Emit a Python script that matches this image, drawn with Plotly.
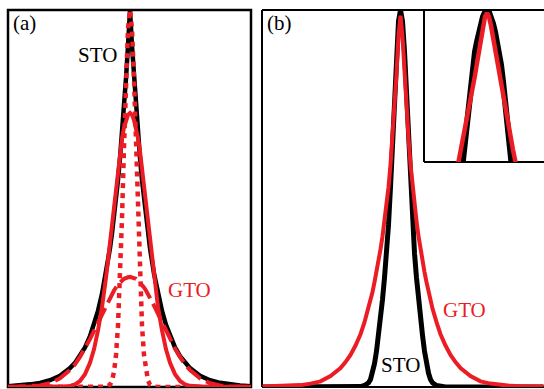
import plotly.graph_objects as go

# ---------------- data ----------------
# Panel (a): offsets from the peak centre, and curve heights (peak of STO = 1)
xa = [-122, -110, -100, -90, -80, -70, -60, -55, -50, -45, -40, -36, -32, -28, -24,
      -20, -18, -16, -14, -12, -10, -8, -6, -4, -2, 0, 2, 4, 6, 8, 10, 12, 14, 16,
      18, 20, 24, 28, 32, 36, 40, 45, 50, 55, 60, 70, 80, 90, 100, 110, 121]

sto_a = [0.002, 0.004, 0.007, 0.011, 0.018, 0.030, 0.050, 0.064, 0.082, 0.105,
         0.135, 0.165, 0.202, 0.247, 0.301, 0.368, 0.407, 0.449, 0.497, 0.549,
         0.607, 0.670, 0.741, 0.819, 0.905, 1.000, 0.905, 0.819, 0.741, 0.670,
         0.607, 0.549, 0.497, 0.449, 0.407, 0.368, 0.301, 0.247, 0.202, 0.165,
         0.135, 0.105, 0.082, 0.064, 0.050, 0.030, 0.018, 0.011, 0.007, 0.004, 0.002]

gto_narrow_a = [0, 0, 0, 0, 0, 0, 0, 0, 0, 0,
                0, 0, 0, 0, 0.001, 0.006, 0.017, 0.040, 0.085, 0.163,
                0.284, 0.447, 0.636, 0.817, 0.951, 1.000, 0.951, 0.817, 0.636, 0.447,
                0.284, 0.163, 0.085, 0.040, 0.017, 0.006, 0.001, 0, 0, 0,
                0, 0, 0, 0, 0, 0, 0, 0, 0, 0, 0]

gto_mid_a = [0, 0, 0, 0, 0, 0.001, 0.003, 0.007, 0.016, 0.034,
             0.064, 0.100, 0.150, 0.212, 0.290, 0.380, 0.428, 0.478, 0.530, 0.580,
             0.625, 0.660, 0.688, 0.708, 0.722, 0.727, 0.722, 0.708, 0.688, 0.660,
             0.625, 0.580, 0.530, 0.478, 0.428, 0.380, 0.290, 0.212, 0.150, 0.100,
             0.064, 0.034, 0.016, 0.007, 0.003, 0.001, 0, 0, 0, 0, 0]

gto_wide_a = [0.000, 0.001, 0.002, 0.004, 0.010, 0.023, 0.045, 0.060, 0.080, 0.102,
              0.127, 0.149, 0.171, 0.194, 0.216, 0.237, 0.247, 0.256, 0.264, 0.271,
              0.277, 0.282, 0.287, 0.290, 0.291, 0.292, 0.291, 0.290, 0.287, 0.282,
              0.277, 0.271, 0.264, 0.256, 0.247, 0.237, 0.216, 0.194, 0.171, 0.149,
              0.127, 0.102, 0.080, 0.060, 0.045, 0.023, 0.010, 0.004, 0.002, 0.001, 0.000]

# Panel (b)
xb = [-138, -120, -110, -100, -90, -80, -70, -60, -55, -50, -45, -40, -36, -32,
      -30, -28, -26, -24, -22, -20, -18, -16, -14, -12, -10, -8, -6, -4, -2, 0,
      2, 4, 6, 8, 10, 12, 14, 16, 18, 20, 22, 24, 26, 28, 30, 32, 36, 40, 45, 50,
      55, 60, 70, 80, 90, 100, 110, 120, 143]

sto_b = [0, 0, 0, 0, 0, 0, 0, 0, 0, 0, 0, 0.001, 0.004, 0.011,
         0.020, 0.037, 0.062, 0.095, 0.137, 0.180, 0.232, 0.290, 0.355, 0.430,
         0.530, 0.640, 0.770, 0.890, 0.970, 1.000,
         0.970, 0.890, 0.770, 0.640, 0.530, 0.430, 0.355, 0.290, 0.232, 0.180,
         0.137, 0.095, 0.062, 0.037, 0.020, 0.011, 0.004, 0.001, 0, 0,
         0, 0, 0, 0, 0, 0, 0, 0, 0]

gto_b = [0.001, 0.002, 0.003, 0.005, 0.009, 0.015, 0.029, 0.050, 0.066, 0.085,
         0.110, 0.140, 0.172, 0.208, 0.230, 0.252, 0.278, 0.305, 0.335, 0.365,
         0.400, 0.440, 0.480, 0.530, 0.590, 0.660, 0.740, 0.830, 0.930, 0.985,
         0.930, 0.830, 0.740, 0.660, 0.590, 0.530, 0.480, 0.440, 0.400, 0.365,
         0.335, 0.305, 0.278, 0.252, 0.230, 0.208, 0.172, 0.140, 0.110, 0.085,
         0.066, 0.050, 0.029, 0.015, 0.009, 0.005, 0.003, 0.002, 0.001]

# Inset of panel (b): close-up of the peaks
x_inset = [-30, -28, -26, -24, -22, -20, -18, -16, -14, -12, -10, -8, -6, -4, -2, 0,
           2, 4, 6, 8, 10, 12, 14, 16, 18, 20, 22, 24, 26, 28, 30]
sto_inset = [0.330, 0.390, 0.450, 0.510, 0.575, 0.640, 0.710, 0.765, 0.820, 0.862,
             0.895, 0.928, 0.955, 0.978, 0.9925, 1.000, 0.9925, 0.978, 0.955, 0.928,
             0.895, 0.862, 0.820, 0.765, 0.710, 0.640, 0.575, 0.510, 0.450, 0.390, 0.330]
gto_inset = [0.475, 0.508, 0.540, 0.575, 0.605, 0.645, 0.680, 0.712, 0.748, 0.785,
             0.825, 0.868, 0.910, 0.948, 0.978, 0.990, 0.978, 0.948, 0.910, 0.868,
             0.825, 0.785, 0.748, 0.712, 0.680, 0.645, 0.605, 0.575, 0.540, 0.508, 0.475]

labels = {"a": "(a)", "b": "(b)", "sto": "STO", "gto": "GTO"}

# ---------------- styling / layout ----------------
W, H = 544, 389
RED = "#ec1c24"
FONT = "Liberation Serif, Times New Roman, serif"


def px(p):
    return p / W


def py(p):
    return 1 - p / H


fig = go.Figure()

# panel (a)
fig.add_trace(go.Scatter(x=xa, y=sto_a, mode="lines", line=dict(color="black", width=4.5),
                         xaxis="x", yaxis="y"))
fig.add_trace(go.Scatter(x=xa, y=gto_wide_a, mode="lines",
                         line=dict(color=RED, width=4, dash="18px,6px"), xaxis="x", yaxis="y"))
fig.add_trace(go.Scatter(x=xa, y=gto_mid_a, mode="lines", line=dict(color=RED, width=4),
                         xaxis="x", yaxis="y"))
fig.add_trace(go.Scatter(x=xa, y=gto_narrow_a, mode="lines",
                         line=dict(color=RED, width=4.5, dash="5px,5px"), xaxis="x", yaxis="y"))

# panel (b)
fig.add_trace(go.Scatter(x=xb, y=sto_b, mode="lines", line=dict(color="black", width=5),
                         xaxis="x2", yaxis="y2"))
fig.add_trace(go.Scatter(x=xb, y=gto_b, mode="lines", line=dict(color=RED, width=4),
                         xaxis="x2", yaxis="y2"))

# inset
fig.add_trace(go.Scatter(x=x_inset, y=sto_inset, mode="lines", line=dict(color="black", width=6),
                         xaxis="x3", yaxis="y3"))
fig.add_trace(go.Scatter(x=x_inset, y=gto_inset, mode="lines", line=dict(color=RED, width=4.5),
                         xaxis="x3", yaxis="y3"))

ax_common = dict(showticklabels=False, ticks="", showgrid=False, zeroline=False,
                 showline=False, fixedrange=True)

top, bottom = 10, 387
fig.update_layout(
    width=W, height=H,
    margin=dict(l=0, r=0, t=0, b=0),
    paper_bgcolor="white",
    plot_bgcolor="rgba(0,0,0,0)",
    showlegend=False,
    hovermode=False,
    xaxis=dict(domain=[px(8), px(251)], range=[-122, 121], anchor="y", **ax_common),
    yaxis=dict(domain=[py(bottom), py(top)], range=[0, 1], anchor="x", **ax_common),
    xaxis2=dict(domain=[px(262), 1.0], range=[-138.5, 143.5], anchor="y2", **ax_common),
    yaxis2=dict(domain=[py(bottom), py(top)], range=[0, 1], anchor="x2", **ax_common),
    xaxis3=dict(domain=[px(424), 1.0], range=[-63, 57], anchor="y3", **ax_common),
    yaxis3=dict(domain=[py(162), py(top)], range=[0.5, 1.0], anchor="x3", **ax_common),
)

frame = dict(color="black", width=2.5)
thin = dict(color="black", width=2)
shapes = [
    # panel (a) box
    dict(type="rect", xref="paper", yref="paper", x0=px(8), x1=px(251), y0=py(bottom), y1=py(top),
         line=frame, layer="below"),
    # panel (b): left, top, bottom
    dict(type="line", xref="paper", yref="paper", x0=px(262), x1=px(262), y0=py(bottom), y1=py(top),
         line=thin, layer="below"),
    dict(type="line", xref="paper", yref="paper", x0=px(262), x1=1.0, y0=py(top), y1=py(top),
         line=thin, layer="below"),
    dict(type="line", xref="paper", yref="paper", x0=px(262), x1=1.0, y0=py(bottom), y1=py(bottom),
         line=thin, layer="below"),
    # inset: left and bottom
    dict(type="line", xref="paper", yref="paper", x0=px(424), x1=px(424), y0=py(162), y1=py(top),
         line=thin, layer="below"),
    dict(type="line", xref="paper", yref="paper", x0=px(424), x1=1.0, y0=py(162), y1=py(162),
         line=thin, layer="below"),
]
fig.update_layout(shapes=shapes)


def note(text, cx, cy, color="black"):
    return dict(text=text, xref="paper", yref="paper", x=px(cx), y=py(cy),
                xanchor="center", yanchor="middle", showarrow=False,
                font=dict(family=FONT, size=21, color=color))


fig.update_layout(annotations=[
    note(labels["a"], 24.5, 23),
    note(labels["sto"], 97.5, 54.5),
    note(labels["gto"], 189, 290, RED),
    note(labels["b"], 279, 23),
    note(labels["gto"], 464, 309.5, RED),
    note(labels["sto"], 400.5, 365),
])

fig.write_html(
    "out.html",
    config={"displayModeBar": False, "staticPlot": True},
    post_script="document.body.style.margin='0';document.body.style.overflow='hidden';",
)
